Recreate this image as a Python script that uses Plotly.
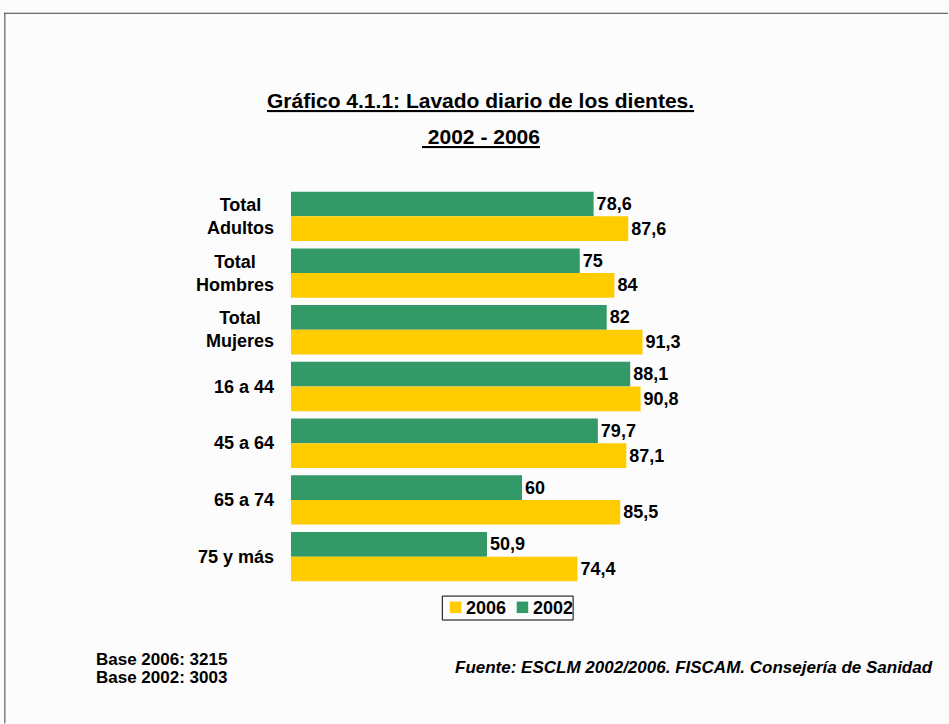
import plotly.graph_objects as go

categories = ["Total<br>Adultos", "Total<br>Hombres", "Total<br>Mujeres", "16 a 44", "45 a 64", "65 a 74", "75 y más"]
values_2002 = [78.6, 75, 82, 88.1, 79.7, 60, 50.9]
values_2006 = [87.6, 84, 91.3, 90.8, 87.1, 85.5, 74.4]
series_names = ["2002", "2006"]
colors = ["#339966", "#FFCC00"]

W, H = 949, 724
L, R, T, B = 291, 272.5, 187.6, 138.6
pw, ph = W - L - R, H - T - B

def px_x(x):
    return (x - L) / pw

def px_y(y):
    return (H - B - y) / ph

def fmt(v):
    return ("%g" % v).replace(".", ",")

FONT = "Liberation Sans, Arial, sans-serif"

fig = go.Figure()
for name, vals, col in [(series_names[0], values_2002, colors[0]),
                        (series_names[1], values_2006, colors[1])]:
    fig.add_trace(go.Bar(
        y=categories, x=vals, name=name, orientation="h",
        marker=dict(color=col, line=dict(width=0)),
        text=["<b>%s</b>" % fmt(v) for v in vals],
        textposition="outside", cliponaxis=False,
        textfont=dict(family=FONT, size=18, color="black"),
        showlegend=False,
    ))

annotations = []
for c in categories:
    annotations.append(dict(
        x=px_x(276), xref="paper", y=c, yref="y", xanchor="right", yanchor="middle",
        align="center", text="<b>%s</b>" % c, showarrow=False,
        font=dict(family=FONT, size=18, color="black")))

annotations += [
    dict(x=px_x(481), y=px_y(100), xref="paper", yref="paper", xanchor="center", yanchor="middle",
         text="<b><u>Gráfico 4.1.1: Lavado diario de los dientes.</u></b>", showarrow=False,
         font=dict(family=FONT, size=21, color="black")),
    dict(x=px_x(481), y=px_y(136), xref="paper", yref="paper", xanchor="center", yanchor="middle",
         text="<b><u> 2002 - 2006</u></b>", showarrow=False,
         font=dict(family=FONT, size=21, color="black")),
    dict(x=px_x(94), y=px_y(660), xref="paper", yref="paper", xanchor="left", yanchor="middle",
         text="<b>Base 2006: 3215</b>", showarrow=False,
         font=dict(family=FONT, size=17, color="black")),
    dict(x=px_x(94), y=px_y(678), xref="paper", yref="paper", xanchor="left", yanchor="middle",
         text="<b>Base 2002: 3003</b>", showarrow=False,
         font=dict(family=FONT, size=17, color="black")),
    dict(x=px_x(936), y=px_y(668), xref="paper", yref="paper", xanchor="right", yanchor="middle",
         text="<b><i>Fuente: ESCLM 2002/2006. FISCAM. Consejería de Sanidad</i></b>", showarrow=False,
         font=dict(family=FONT, size=17, color="black")),
]

shapes = [
    dict(type="line", xref="paper", yref="paper", x0=px_x(4), x1=px_x(949), y0=px_y(12.5), y1=px_y(12.5),
         line=dict(color="#404040", width=1)),
    dict(type="line", xref="paper", yref="paper", x0=px_x(4.5), x1=px_x(4.5), y0=px_y(12), y1=px_y(724),
         line=dict(color="#404040", width=1)),
    # legend box
    dict(type="rect", xref="paper", yref="paper", x0=px_x(442.5), x1=px_x(573.5), y0=px_y(596.5), y1=px_y(620.5),
         line=dict(color="black", width=1), fillcolor="#FCFCFC"),
]

# legend entries: 2006 first, then 2002
legend_items = [(series_names[1], colors[1], 450), (series_names[0], colors[0], 517)]
for name, col, x0 in legend_items:
    shapes.append(dict(type="rect", xref="paper", yref="paper",
                       x0=px_x(x0), x1=px_x(x0 + 11.5), y0=px_y(602), y1=px_y(613.5),
                       line=dict(width=0), fillcolor=col))
    annotations.append(dict(x=px_x(x0 + 14), y=px_y(608), xref="paper", yref="paper",
                            xanchor="left", yanchor="middle", text="<b>%s</b>" % name,
                            showarrow=False, font=dict(family=FONT, size=18, color="black")))

fig.update_layout(
    width=W, height=H,
    margin=dict(l=L, r=R, t=T, b=B, autoexpand=False),
    paper_bgcolor="#FCFCFC", plot_bgcolor="#FCFCFC",
    barmode="group", bargap=0.13, bargroupgap=0,
    font=dict(family=FONT, size=16, color="black"),
    xaxis=dict(range=[0, 100], visible=False, showgrid=False, zeroline=False),
    yaxis=dict(autorange="reversed", showticklabels=False, showgrid=False, zeroline=False, ticks=""),
    showlegend=False,
    annotations=annotations, shapes=shapes,
)

fig.write_html("out.html")
